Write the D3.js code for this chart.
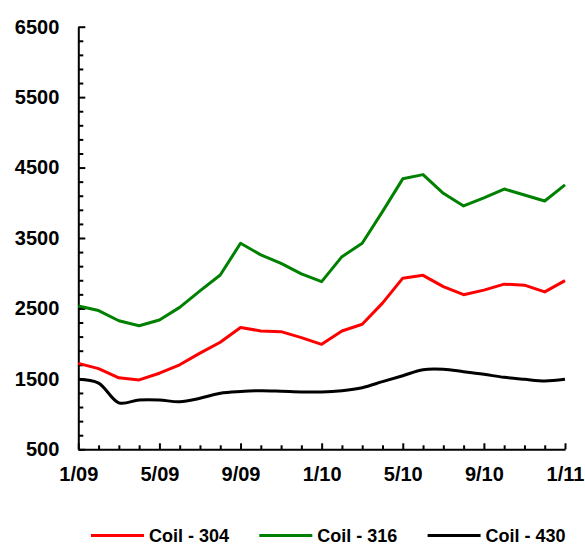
<!DOCTYPE html>
<html>
<head>
<meta charset="utf-8">
<script src="https://cdn.jsdelivr.net/npm/d3@7"></script>
<style>
  html, body { margin: 0; padding: 0; background: #fff; }
  svg { display: block; }
  text { font-family: "Liberation Sans", Arial, sans-serif; font-weight: bold; fill: #000; }
</style>
</head>
<body>
<svg id="chart" width="585" height="546"></svg>
<script>
// ---- data ----
const monthCount = 25; // 1/09 .. 1/11 monthly
const xTickLabels = ["1/09", "5/09", "9/09", "1/10", "5/10", "9/10", "1/11"];
const yMajorTicks = [500, 1500, 2500, 3500, 4500, 5500, 6500];
const seriesNames = ["Coil - 304", "Coil - 316", "Coil - 430"];
const seriesColors = ["#ff0000", "#008000", "#000000"];
const coil304 = [1720, 1645, 1515, 1485, 1580, 1700, 1865, 2020, 2230, 2180, 2170, 2085, 1990, 2180, 2275, 2575, 2930, 2970, 2810, 2695, 2760, 2845, 2830, 2735, 2895];
const coil316 = [2535, 2470, 2325, 2255, 2335, 2515, 2750, 2975, 3425, 3260, 3140, 2990, 2880, 3235, 3425, 3875, 4340, 4400, 4135, 3955, 4070, 4195, 4110, 4025, 4255];
const coil430 = [1495, 1440, 1160, 1200, 1200, 1175, 1225, 1295, 1320, 1332, 1325, 1315, 1313, 1332, 1375, 1460, 1545, 1630, 1636, 1602, 1565, 1522, 1494, 1470, 1494];

const svg = d3.select("#chart");
const x = d3.scaleLinear().domain([0, monthCount - 1]).range([78.3, 565]);
const y = d3.scaleLinear().domain([500, 6500]).range([449.3, 26.7]);

// minor y ticks every 200
const yMinor = d3.range(500, 6501, 200).filter(v => !yMajorTicks.includes(v));
const gYMinor = svg.append("g").attr("transform", `translate(${x(0)},0)`)
  .call(d3.axisLeft(y).tickValues(yMinor).tickSize(-5).tickSizeOuter(0).tickFormat(""));
gYMinor.select(".domain").remove();
gYMinor.selectAll("line").attr("stroke", "#000").attr("stroke-width", 2);

const gY = svg.append("g").attr("transform", `translate(${x(0)},0)`)
  .call(d3.axisLeft(y).tickValues(yMajorTicks).tickSize(-7).tickSizeOuter(0).tickPadding(19).tickFormat(d3.format("d")));
gY.select(".domain").attr("stroke", "#000").attr("stroke-width", 2);
gY.selectAll("line").attr("stroke", "#000").attr("stroke-width", 2);
gY.selectAll("text").style("font-size", "20px").style("font-family", "'Liberation Sans', Arial, sans-serif").style("font-weight", "bold");

// x axis: monthly minor ticks, major every 4 months
const monthIdx = d3.range(0, monthCount);
const majorIdx = xTickLabels.map((_, i) => i * 4);
const gXMinor = svg.append("g").attr("transform", `translate(0,${y(500)})`)
  .call(d3.axisBottom(x).tickValues(monthIdx.filter(i => !majorIdx.includes(i))).tickSize(-4).tickSizeOuter(0).tickFormat(""));
gXMinor.select(".domain").remove();
gXMinor.selectAll("line").attr("stroke", "#000").attr("stroke-width", 2);

const gX = svg.append("g").attr("transform", `translate(0,${y(500)})`)
  .call(d3.axisBottom(x).tickValues(majorIdx).tickSize(-6).tickSizeOuter(0).tickPadding(18)
    .tickFormat((d, i) => xTickLabels[i]));
gX.select(".domain").attr("stroke", "#000").attr("stroke-width", 2);
gX.selectAll("line").attr("stroke", "#000").attr("stroke-width", 2);
gX.selectAll("text").style("font-size", "20px").style("font-family", "'Liberation Sans', Arial, sans-serif").style("font-weight", "bold");

// lines
const seriesData = [coil304, coil316, coil430];
const straight = d3.line().x((d, i) => x(i)).y(d => y(d));
const smooth = d3.line().x((d, i) => x(i)).y(d => y(d)).curve(d3.curveCatmullRom.alpha(0.5));
seriesData.forEach((vals, k) => {
  svg.append("path")
    .datum(vals)
    .attr("fill", "none")
    .attr("stroke", seriesColors[k])
    .attr("stroke-width", 3)
    .attr("stroke-linejoin", "round")
    .attr("d", k === 2 ? smooth(vals) : straight(vals));
});

// legend
const legendX = d3.scaleLinear().domain([0, 1]).range([91, 259.3]);
const legendY = 535.5;
const legend = svg.append("g");
seriesNames.forEach((name, k) => {
  const lx = legendX(k);
  legend.append("line")
    .attr("x1", lx).attr("x2", lx + 53)
    .attr("y1", legendY).attr("y2", legendY)
    .attr("stroke", seriesColors[k]).attr("stroke-width", 3);
  legend.append("text")
    .attr("x", lx + 58).attr("y", legendY)
    .attr("dy", "0.35em")
    .style("font-size", "18px")
    .text(name);
});
</script>
</body>
</html>
